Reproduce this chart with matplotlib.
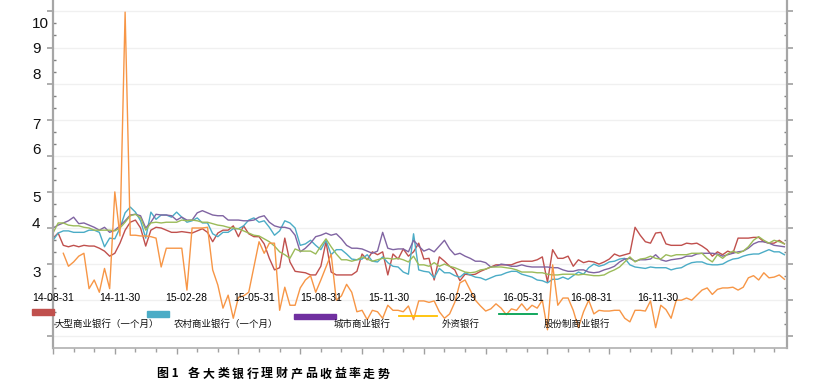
import numpy as np
import pandas as pd
import matplotlib.pyplot as plt
from matplotlib.lines import Line2D
from matplotlib.patches import Rectangle
from matplotlib.ticker import MultipleLocator
import matplotlib.transforms as mtransforms

# weekly yields, first week = 2014-08-31
start = pd.Timestamp("2014-08-31")

big = [3.86, 3.93, 3.76, 3.74, 3.76, 3.74, 3.76, 3.75, 3.75, 3.72, 3.68, 3.61, 3.65, 3.79, 3.97, 4.08, 4.11, 4.00, 3.75, 3.97,
       4.01, 4.00, 3.97, 3.94, 3.94, 3.95, 3.94, 3.93, 3.96, 3.99, 3.94, 3.81, 3.93, 3.97, 3.97, 4.03, 3.88, 4.03, 3.92, 3.88,
       3.88, 3.78, 3.58, 3.42, 3.45, 3.86, 3.53, 3.40, 3.39, 3.38, 3.35, 3.35, 3.47, 3.81, 3.39, 3.35, 3.35, 3.35, 3.35, 3.40,
       3.64, 3.56, 3.67, 3.63, 3.67, 3.35, 3.64, 3.57, 3.71, 3.61, 3.67, 3.79, 3.57, 3.58, 3.28, 3.60, 3.54, 3.47, 3.42, 3.27,
       3.36, 3.35, 3.36, 3.40, 3.43, 3.46, 3.49, 3.49, 3.49, 3.49, 3.52, 3.54, 3.54, 3.54, 3.56, 3.60, 3.25, 3.70, 3.58, 3.58,
       3.61, 3.47, 3.56, 3.52, 3.54, 3.53, 3.50, 3.53, 3.57, 3.64, 3.61, 3.63, 3.65, 4.01, 3.90, 3.81, 3.79, 3.93, 3.94, 3.78,
       3.76, 3.76, 3.76, 3.79, 3.78, 3.79, 3.75, 3.70, 3.61, 3.67, 3.63, 3.68, 3.65, 3.86, 3.86, 3.86, 3.87, 3.87, 3.81, 3.79,
       3.79, 3.83, 3.78]

rural = [3.83, 3.93, 3.96, 3.96, 3.94, 3.94, 3.94, 3.97, 3.97, 3.94, 3.74, 3.86, 3.85, 4.00, 4.21, 4.29, 4.22, 4.10, 3.86, 4.22,
         4.12, 4.18, 4.18, 4.15, 4.22, 4.15, 4.08, 4.10, 4.14, 4.07, 4.07, 3.92, 3.88, 3.94, 3.94, 3.99, 3.99, 4.03, 4.11, 4.14,
         4.08, 4.10, 4.01, 3.90, 3.96, 4.10, 4.07, 4.00, 3.76, 3.78, 3.83, 3.76, 3.70, 3.83, 3.63, 3.70, 3.70, 3.64, 3.57, 3.56,
         3.57, 3.63, 3.54, 3.53, 3.60, 3.52, 3.47, 3.46, 3.39, 3.36, 3.92, 3.42, 3.40, 3.39, 3.31, 3.44, 3.38, 3.38, 3.34, 3.32,
         3.38, 3.35, 3.32, 3.31, 3.28, 3.31, 3.34, 3.35, 3.38, 3.40, 3.40, 3.36, 3.34, 3.32, 3.28, 3.27, 3.24, 3.29, 3.29, 3.32,
         3.29, 3.34, 3.39, 3.36, 3.45, 3.50, 3.47, 3.49, 3.53, 3.54, 3.57, 3.58, 3.49, 3.46, 3.45, 3.44, 3.46, 3.45, 3.45, 3.45,
         3.42, 3.44, 3.45, 3.49, 3.52, 3.53, 3.53, 3.50, 3.49, 3.49, 3.50, 3.54, 3.57, 3.58, 3.61, 3.63, 3.64, 3.64, 3.67, 3.70,
         3.67, 3.67, 3.63]

city = [4.00, 4.04, 4.07, 4.10, 4.15, 4.06, 4.07, 4.04, 4.01, 3.97, 4.01, 3.94, 3.97, 4.03, 4.10, 4.18, 4.19, 4.17, 4.00, 4.08,
        4.19, 4.18, 4.18, 4.17, 4.11, 4.15, 4.11, 4.11, 4.21, 4.24, 4.21, 4.18, 4.17, 4.17, 4.11, 4.11, 4.11, 4.10, 4.10, 4.11,
        4.15, 4.17, 4.08, 4.03, 4.01, 4.01, 3.99, 3.90, 3.67, 3.72, 3.79, 3.88, 3.90, 3.93, 3.90, 3.92, 3.85, 3.76, 3.72, 3.72,
        3.71, 3.68, 3.65, 3.68, 3.94, 3.72, 3.70, 3.71, 3.71, 3.67, 3.83, 3.75, 3.68, 3.71, 3.67, 3.75, 3.83, 3.71, 3.63, 3.65,
        3.61, 3.58, 3.54, 3.54, 3.52, 3.46, 3.47, 3.50, 3.49, 3.47, 3.47, 3.49, 3.47, 3.46, 3.46, 3.46, 3.46, 3.45, 3.45, 3.42,
        3.40, 3.40, 3.42, 3.42, 3.39, 3.38, 3.39, 3.42, 3.44, 3.47, 3.53, 3.57, 3.58, 3.54, 3.56, 3.56, 3.57, 3.63, 3.56, 3.54,
        3.56, 3.57, 3.58, 3.61, 3.61, 3.64, 3.65, 3.65, 3.65, 3.64, 3.61, 3.63, 3.65, 3.67, 3.68, 3.72, 3.78, 3.81, 3.81, 3.79,
        3.76, 3.75, 3.74]

foreign = [np.nan, np.nan, 3.65, 3.47, 3.53, 3.61, 3.65, 3.16, 3.28, 3.11, 3.44, 3.16, 4.50, 3.89, 6.99, 3.90, 3.90, 3.89, 3.89, 3.88,
           3.86, 3.46, 3.72, 3.72, 3.72, 3.72, 3.14, 4.00, 4.00, 4.00, 4.01, 3.42, 3.21, 2.89, 3.07, 2.75, 3.04, 3.06, 3.11, 3.46,
           3.81, 3.65, 3.79, 3.79, 2.86, 3.18, 2.93, 2.93, 3.17, 3.28, 3.34, 3.11, 3.28, 3.46, 3.64, 3.00, 3.06, 3.22, 3.11, 2.84,
           2.86, 2.73, 2.86, 2.84, 2.75, 2.93, 2.86, 2.86, 2.84, 2.92, 2.73, 2.99, 2.99, 2.97, 2.99, 2.84, 2.75, 2.81, 2.97, 3.24,
           3.28, 3.14, 3.00, 2.92, 2.85, 2.88, 2.95, 2.89, 2.80, 2.88, 2.86, 2.95, 2.86, 2.93, 2.89, 3.00, 2.59, 3.49, 2.93, 3.03,
           3.03, 2.86, 2.62, 2.84, 3.00, 2.81, 2.86, 2.85, 2.85, 2.86, 2.86, 2.75, 2.70, 2.86, 2.86, 2.85, 2.99, 2.62, 2.93, 2.87,
           2.75, 3.00, 3.00, 3.03, 3.00, 3.07, 3.14, 3.17, 3.08, 3.15, 3.17, 3.17, 3.18, 3.14, 3.18, 3.31, 3.34, 3.28, 3.38, 3.31,
           3.32, 3.35, 3.29]

joint = [3.93, 4.07, 4.07, 4.04, 4.03, 4.03, 4.01, 4.00, 3.97, 3.97, 3.97, 3.97, 3.96, 4.00, 4.08, 4.17, 4.19, 4.14, 3.97, 4.07,
         4.08, 4.07, 4.08, 4.08, 4.08, 4.11, 4.10, 4.11, 4.10, 4.08, 4.08, 4.06, 4.04, 4.03, 4.01, 4.00, 3.99, 3.96, 3.93, 3.90,
         3.89, 3.85, 3.81, 3.75, 3.67, 3.63, 3.58, 3.71, 3.68, 3.68, 3.68, 3.64, 3.75, 3.85, 3.74, 3.64, 3.56, 3.56, 3.54, 3.56,
         3.60, 3.57, 3.54, 3.56, 3.58, 3.58, 3.57, 3.58, 3.56, 3.53, 3.61, 3.49, 3.49, 3.47, 3.52, 3.47, 3.50, 3.47, 3.45, 3.42,
         3.39, 3.38, 3.39, 3.42, 3.43, 3.46, 3.46, 3.46, 3.45, 3.44, 3.42, 3.39, 3.39, 3.39, 3.38, 3.38, 3.36, 3.35, 3.35, 3.36,
         3.36, 3.36, 3.35, 3.36, 3.35, 3.34, 3.34, 3.35, 3.39, 3.42, 3.46, 3.53, 3.60, 3.53, 3.57, 3.58, 3.61, 3.58, 3.57, 3.63,
         3.61, 3.63, 3.63, 3.63, 3.65, 3.65, 3.65, 3.58, 3.53, 3.63, 3.58, 3.64, 3.68, 3.65, 3.68, 3.74, 3.83, 3.88, 3.83, 3.79,
         3.83, 3.81, 3.78]

date_labels = ["14-08-31", "14-11-30", "15-02-28", "15-05-31", "15-08-31",
               "15-11-30", "16-02-29", "16-05-31", "16-08-31", "16-11-30"]
ytick_text = ["10", "9", "8", "7", "6", "5", "4", "3"]
ytick_pos = [6.83, 6.48, 6.12, 5.43, 5.08, 4.41, 4.06, 3.37]

series = [("大型商业银行（一个月）", big, "#C0504D"),
          ("农村商业银行（一个月）", rural, "#4BACC6"),
          ("城市商业银行", city, "#8064A2"),
          ("股份制商业银行", joint, "#9BBB59"),
          ("外资银行", foreign, "#F79646")]

W, H = 822, 392
fig = plt.figure(figsize=(W / 100, H / 100), dpi=100)
ax = fig.add_axes([53 / W, 1 - 348 / H, 734 / W, 348 / H])

weeks = np.arange(len(big))
for name, vals, col in series:
    ax.plot(weeks, vals, color=col, lw=1.0)

ax.set_xlim(0, 142.5)
ax.set_ylim(2.338, 7.158)

# grid + ticks
ax.yaxis.set_major_locator(MultipleLocator(0.5))
ax.yaxis.set_minor_locator(MultipleLocator(0.5 / 3))
ax.xaxis.set_major_locator(MultipleLocator(12))
ax.xaxis.set_minor_locator(MultipleLocator(4))
ax.grid(axis="y", which="major", color="#F0F0F0", lw=1.0)
ax.set_axisbelow(True)
ax.tick_params(axis="y", which="major", direction="out", length=4, width=1.2,
               color="#A0A0A0", left=True, right=True, labelleft=False)
ax.tick_params(axis="y", which="minor", direction="in", length=2, width=1.0,
               color="#808080", left=True, right=True)
ax.tick_params(axis="x", which="major", direction="out", length=4, width=1.0,
               color="#A0A0A0", labelbottom=False)
ax.tick_params(axis="x", which="minor", direction="out", length=3, width=1.0,
               color="#A0A0A0")
ax.spines["top"].set_visible(False)
for s in ["left", "right"]:
    ax.spines[s].set_color("#A6A6A6")
    ax.spines[s].set_linewidth(1.6)
ax.spines["bottom"].set_color("#B0B0B0")
ax.spines["bottom"].set_linewidth(1.2)

# odd y labels on the left
trans = mtransforms.blended_transform_factory(ax.transAxes, ax.transData)
for t, v in zip(ytick_text, ytick_pos):
    ax.text(-21 / 734, v, t, transform=trans, ha="left", va="center",
            fontsize=11, family="Liberation Sans", color="#101010", clip_on=False)

# date labels inside the plot
for d in date_labels:
    pos = (pd.Timestamp("20" + d) - start).days / 7
    ax.text(pos, 3.03, d, ha="center", va="center", fontsize=7.5,
            family="Liberation Sans", color="black", clip_on=False)

# hand-placed legend
def fx(px):
    return px / W

def fy(py):
    return 1 - py / H

fig.patches.append(Rectangle((fx(32), fy(315)), 22 / W, 6 / H, color="#C0504D", transform=fig.transFigure))
fig.patches.append(Rectangle((fx(147), fy(316.5)), 22 / W, 5.5 / H, color="#4BACC6", transform=fig.transFigure))
fig.patches.append(Rectangle((fx(294), fy(318.5)), 42 / W, 4.5 / H, color="#7030A0", transform=fig.transFigure))
fig.lines.append(Line2D([fx(399), fx(437)], [fy(316), fy(316)], color="#FFC000", lw=1.3, transform=fig.transFigure))
fig.lines.append(Line2D([fx(499), fx(537)], [fy(313.5), fy(313.5)], color="#00A050", lw=1.3, transform=fig.transFigure))

cjk = ["Noto Sans CJK SC", "DejaVu Sans"]
for x, t in [(55, series[0][0]), (174, series[1][0]), (334, series[2][0]),
             (442, series[4][0]), (544, series[3][0])]:
    fig.text(fx(x), fy(324), t, ha="left", va="center", fontsize=6.8, family=cjk, color="#111111")

# caption, spaced out like the original
fig.text(fx(157), fy(374), "图 1", ha="left", va="center", fontsize=8.6,
         family=cjk, weight="bold")
for i, ch in enumerate("各大类银行理财产品收益率走势"):
    fig.text(fx(188 + i * 14.6), fy(374), ch, ha="left", va="center",
             fontsize=8.6, family=cjk, weight="bold")

fig.savefig("out.png", dpi=100)
